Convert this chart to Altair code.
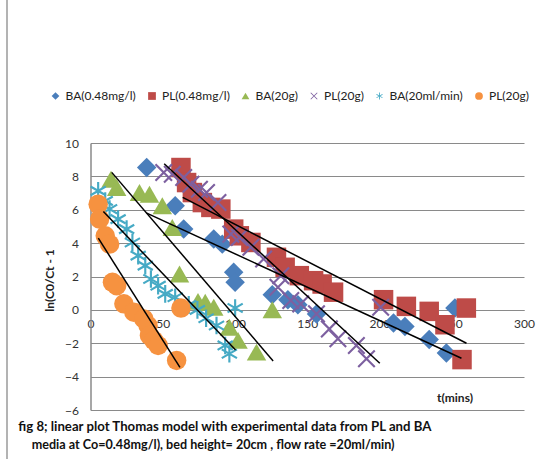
import math
import altair as alt
import pandas as pd

# ---------------- data ----------------
series_names = ["BA(0.48mg/l)", "PL(0.48mg/l)", "BA(20g)", "PL(20g)", "BA(20ml/min)", "PL(20g) "]
series_colors = ["#4A7EBB", "#BE4B48", "#98B954", "#7D60A0", "#46AAC5", "#F69240"]

ba048_t = [38.9, 58.6, 64.5, 85.3, 91.2, 99.1, 100.1, 125.8, 136.6, 143.5, 156.4, 209.7, 217.6, 234.4, 246.3, 252.2]
ba048_v = [8.53, 6.24, 4.84, 4.24, 3.94, 2.25, 1.65, 0.90, 0.60, 0.30, -0.24, -0.79, -0.99, -1.78, -2.58, 0.11]

pl048_t = [62.6, 66.5, 70.5, 77.4, 83.3, 90.2, 99.1, 103.0, 111.0, 128.7, 134.7, 144.5, 154.4, 160.3, 168.2, 202.8, 218.6, 234.4, 245.3, 257.1, 260.1]
pl048_v = [8.53, 7.63, 7.03, 6.43, 6.14, 6.04, 4.84, 4.44, 4.04, 3.15, 2.55, 2.05, 1.75, 1.55, 1.06, 0.61, 0.21, -0.09, -0.89, -2.98, 0.11]

ba20g_t = [14.2, 18.1, 33.9, 40.8, 49.7, 56.6, 61.6, 74.4, 79.4, 85.3, 96.1, 102.1, 114.9, 125.8]
ba20g_v = [7.83, 7.33, 7.03, 6.93, 6.24, 4.94, 2.15, 0.51, 0.46, 0.16, -1.04, -1.83, -2.53, 0.01]

pl20g_t = [50.7, 56.6, 64.5, 69.5, 75.4, 80.3, 88.2, 97.1, 103.0, 111.0, 119.8, 129.7, 131.7, 138.6, 145.5, 156.4, 165.3, 171.2, 184.0, 191.0, 200.8]
pl20g_v = [8.23, 8.13, 7.93, 7.53, 7.23, 7.03, 6.43, 4.54, 4.34, 3.75, 3.05, 1.35, 2.05, 0.56, 0.36, -0.24, -1.14, -1.73, -2.13, -2.93, 0.16]

ba20ml_t = [5.3, 10.2, 13.2, 19.1, 25.0, 29.0, 33.0, 37.9, 41.8, 46.8, 51.7, 58.6, 68.0, 74.0, 80.0, 87.2, 93.2, 96.1, 100.1]
ba20ml_v = [7.13, 6.53, 6.04, 5.44, 4.84, 4.04, 3.25, 2.65, 1.85, 1.45, 0.96, 0.76, 0.30, 0.00, -0.50, -0.94, -2.13, -2.63, 0.11]

pl20g2_t = [5.3, 6.3, 10.2, 13.2, 15.2, 18.1, 23.1, 30.0, 36.9, 39.8, 40.8, 43.8, 46.8, 59.6, 62.6]
pl20g2_v = [6.33, 5.44, 4.44, 3.94, 1.65, 1.45, 0.36, -0.14, -0.54, -0.94, -1.53, -1.83, -2.13, -3.03, 0.11]

# fitted (Thomas model) lines: start / end per series
trend_t0 = [38.9, 63.8, 14.7, 51.0, 8.9, 5.4]
trend_v0 = [5.80, 6.74, 8.24, 8.76, 5.90, 4.30]
trend_t1 = [256.7, 260.2, 126.4, 200.2, 100.4, 61.9]
trend_v1 = [-2.90, -2.00, -3.06, -3.20, -2.40, -3.44]

x_ticks = [0, 50, 100, 150, 200, 250, 300]
y_ticks = [-6, -4, -2, 0, 2, 4, 6, 8, 10]

caption_lines = [
    "fig 8; linear plot Thomas model  with experimental data from PL and BA",
    "media at Co=0.48mg/l), bed height= 20cm , flow rate =20ml/min)",
]

# ---------------- build tables ----------------
all_t = [ba048_t, pl048_t, ba20g_t, pl20g_t, ba20ml_t, pl20g2_t]
all_v = [ba048_v, pl048_v, ba20g_v, pl20g_v, ba20ml_v, pl20g2_v]
rows = []
for name, ts, vs in zip(series_names, all_t, all_v):
    for t, v in zip(ts, vs):
        rows.append({"series": name, "t": t, "v": v})
points_df = pd.DataFrame(rows)
points_df["idx"] = range(len(points_df))

trend_rows = []
for name, a, b, c, d in zip(series_names, trend_t0, trend_v0, trend_t1, trend_v1):
    trend_rows.append({"series": name, "t": a, "v": b})
    trend_rows.append({"series": name, "t": c, "v": d})
trend_df = pd.DataFrame(trend_rows)


# ---------------- marker shapes ----------------
def bar(theta_deg, L, w):
    th = math.radians(theta_deg)
    dx, dy = math.cos(th) * L, math.sin(th) * L
    nx, ny = -math.sin(th) * w, math.cos(th) * w
    pts = [(-dx - nx, -dy - ny), (dx - nx, dy - ny), (dx + nx, dy + ny), (-dx + nx, -dy + ny)]
    return "M" + "L".join(f"{x:.3f},{y:.3f}" for x, y in pts) + "Z"


x_shape = bar(45, 1.2, 0.11) + bar(135, 1.2, 0.11)
star_shape = bar(90, 0.9, 0.11) + bar(30, 0.9, 0.11) + bar(150, 0.9, 0.11)
series_shapes = ["diamond", "square", "triangle-up", x_shape, star_shape, "circle"]

FONT = "Lato"

xscale = alt.Scale(domain=[0, 300], nice=False, zero=False)
yscale = alt.Scale(domain=[-6, 10], nice=False, zero=False)

x_axis = alt.Axis(
    values=x_ticks, tickCount=7, grid=False, ticks=False, offset=-100, labelFlush=False,
    labelOverlap=False, labelPadding=8, labelFontSize=12, labelFont=FONT,
    labelColor="#333333", domainColor="#8A8A8A", domainWidth=1,
    title="t(mins)", titleFont=FONT, titleFontSize=12, titleFontWeight="bold",
    titleColor="#222222", titleX=364, titleY=87, titleAlign="center", titleBaseline="middle")
y_axis = alt.Axis(
    values=y_ticks, tickCount=9, grid=True, gridColor="#8A8A8A", gridWidth=1, ticks=False,
    labelOverlap=False, labelPadding=12, labelFontSize=12, labelFont=FONT,
    labelColor="#333333", domainColor="#8A8A8A", domainWidth=1.5,
    title="ln(C0/Ct - 1", titleFont=FONT, titleFontSize=12, titleFontWeight="bold",
    titleColor="#222222", titleX=-41.5, titleY=137, titleAngle=270,
    titleAlign="center", titleBaseline="middle")

x_enc = alt.X("t:Q", scale=xscale, axis=x_axis)
y_enc = alt.Y("v:Q", scale=yscale, axis=y_axis)

points = alt.Chart(points_df).mark_point(filled=True, size=380, opacity=1, strokeWidth=0).encode(
    x=x_enc,
    y=y_enc,
    color=alt.Color("series:N", scale=alt.Scale(domain=series_names, range=series_colors),
                    legend=alt.Legend(title=None, orient="none", direction="horizontal",
                                      legendX=-41, legendY=-53, padding=0,
                                      symbolSize=60, symbolStrokeWidth=0, labelOffset=4,
                                      columnPadding=9.5, labelFont=FONT, labelFontSize=12,
                                      labelColor="#222222", labelExpr="trim(datum.label)")),
    shape=alt.Shape("series:N", scale=alt.Scale(domain=series_names, range=series_shapes)),
    order=alt.Order("idx:Q"),
)

trend = alt.Chart(trend_df).mark_line(color="black", strokeWidth=1.5).encode(
    x=x_enc,
    y=y_enc,
    detail="series:N",
)

frame_df = pd.DataFrame({"k": [0]})
frame = alt.Chart(frame_df).mark_rule(color="#9A9A9A", strokeWidth=1.5).encode(
    x=alt.value(-83.5), y=alt.value(-143), y2=alt.value(316)
)

cap1 = alt.Chart(frame_df).mark_text(
    text=caption_lines[0], align="left", baseline="alphabetic", font=FONT,
    fontSize=13.2, fontWeight="bold", color="#111111"
).encode(x=alt.value(-72.2), y=alt.value(287.7))
cap2 = alt.Chart(frame_df).mark_text(
    text=caption_lines[1], align="left", baseline="alphabetic", font=FONT,
    fontSize=12.6, fontWeight="bold", color="#111111"
).encode(x=alt.value(-58.8), y=alt.value(306.3))

chart = alt.layer(frame, points, trend, cap1, cap2).properties(
    width=433.5, height=267,
    autosize=alt.AutoSizeParams(type="none"),
    padding={"left": 90.5, "top": 143, "right": 26, "bottom": 49},
    background="white",
).configure_view(strokeWidth=0)

chart.save("out.html", embed_options={"renderer": "svg", "actions": False})
